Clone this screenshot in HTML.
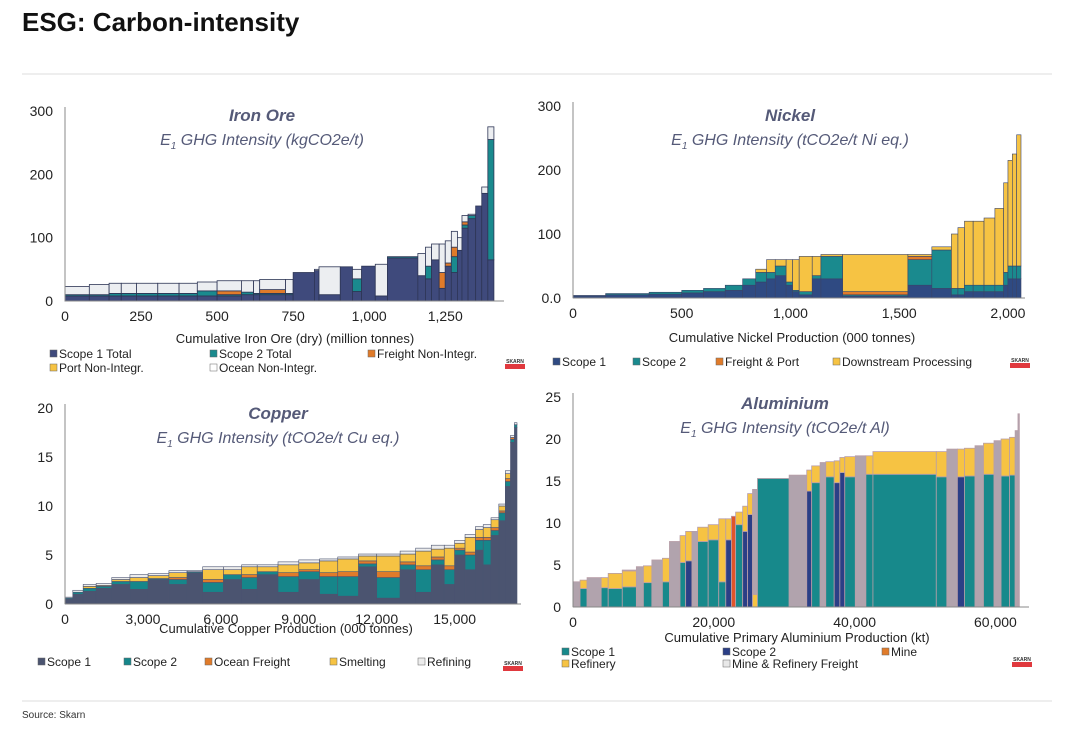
<!DOCTYPE html>
<html><head><meta charset="utf-8"><style>
body{margin:0;background:#fff;width:1080px;height:733px;overflow:hidden;font-family:"Liberation Sans",sans-serif}
svg text{font-family:"Liberation Sans",sans-serif}
</style></head><body>
<svg id="s" width="1080" height="733" xmlns="http://www.w3.org/2000/svg">
<text x="22" y="31" font-size="26" font-weight="bold" fill="#111">ESG: Carbon-intensity</text>
<line x1="22" y1="74" x2="1052" y2="74" stroke="#ddd"/>
<line x1="22" y1="701" x2="1052" y2="701" stroke="#ddd"/>
<text x="22" y="718" font-size="10" fill="#333">Source: Skarn</text>
</svg>
<script>
// ---- Iron Ore data (million tonnes, kgCO2e/t)
const ironW=[80,65,40,50,70,70,60,65,80,40,20,85,25,70,15,70,40,30,45,40,100,25,20,25,20,20,20,15,20,25,20,20,20];
const ironS1=[8,8,8,8,8,8,8,8,8,10,10,10,10,45,48,10,54,15,55,8,68,40,35,65,20,55,45,80,115,130,150,170,65];
const ironS2=[2,2,4,4,4,4,4,8,2,4,2,2,2,0,0,0,0,20,0,0,2,0,20,0,0,0,25,0,5,5,0,0,190];
const ironFr=[0,0,0,0,0,0,0,0,6,0,0,6,0,0,0,0,0,0,0,0,0,0,0,0,25,5,15,0,5,0,0,0,0];
const ironPort=[0,0,0,0,0,0,0,0,0,0,0,0,0,0,0,0,0,0,0,0,0,0,0,0,0,0,0,0,0,0,0,0,0];
const ironOc=[13,16,16,16,16,16,16,14,16,18,20,16,22,0,2,44,0,15,0,50,0,35,30,25,45,35,25,20,10,2,0,10,20];
const ironXTicks=[0,250,500,750,1000,1250];
const ironYTicks=[0,100,200,300];
// ---- Nickel data (kt, tCO2e/t)
const niW=[150,200,150,100,100,80,60,50,40,50,30,30,60,40,100,300,110,90,30,30,40,50,50,40,20,20,20,20];
const niS1=[3,5,6,8,10,12,20,25,30,35,20,10,5,30,30,3,20,15,5,5,10,10,10,10,20,30,30,30];
const niS2=[1,2,3,4,5,8,10,15,10,15,5,2,5,5,35,2,40,60,10,10,10,10,10,10,20,20,20,20];
const niFr=[0,0,0,0,0,0,0,0,0,0,0,0,0,0,0,5,5,0,0,0,0,0,0,0,0,0,0,0];
const niDs=[0,0,0,0,0,0,0,5,20,10,35,48,55,30,3,58,3,5,85,95,100,100,105,120,140,165,175,205];
const niXTicks=[0,500,1000,1500,2000];
const niYTicks=[0,100,200,300];
// ---- Copper data (kt, tCO2e/t)
const cuW=[300,400,500,600,700,700,800,700,600,800,700,600,800,800,800,700,800,700,900,600,600,500,400,400,400,300,300,300,250,200,150,100];
const cuS1=[0.5,1.0,1.3,1.6,2.0,1.5,2.5,2.0,3.2,1.2,2.5,1.5,3.0,1.2,2.5,1.0,0.8,3.8,0.6,3.5,1.2,4.0,2.0,5.0,3.5,5.5,4.0,7.0,8.5,12,16.5,18];
const cuS2=[0.1,0.2,0.3,0.2,0.3,0.8,0.1,0.5,0.1,1.0,0.5,1.2,0.3,1.6,0.8,1.8,2.0,0.3,2.1,0.5,2.3,0.5,1.5,0.5,1.5,1.0,2.5,0.5,0.8,0.5,0.3,0.3];
const cuFr=[0,0,0,0,0,0,0,0.2,0,0.3,0,0.3,0,0.4,0.2,0.4,0.5,0.3,0.6,0.3,0.4,0.3,0.4,0.2,0.3,0.3,0.3,0.3,0.2,0.3,0.2,0];
const cuSm=[0,0,0.2,0.1,0.2,0.4,0.3,0.5,0,1.0,0.5,0.8,0.5,0.8,0.7,1.2,1.3,0.5,1.6,0.8,1.5,0.8,1.8,0.5,1.5,0.8,1.0,0.8,0.5,0.5,0,0];
const cuRef=[0.1,0.2,0.2,0.2,0.2,0.3,0.2,0.2,0.1,0.3,0.3,0.2,0.2,0.3,0.3,0.2,0.2,0.2,0.2,0.3,0.3,0.4,0.3,0.3,0.3,0.3,0.3,0.2,0.2,0.3,0.2,0.2];
const cuXTicks=[0,3000,6000,9000,12000,15000];
const cuYTicks=[0,5,10,15,20];
// ---- Aluminium data (kt, tCO2e/t)
const alW=[1000,1000,2000,1000,2000,2000,1000,1200,1500,1000,1500,800,900,800,1500,1500,1000,800,600,1000,700,700,700,4500,2500,700,1200,800,1200,800,700,1500,1500,1000,9000,1500,1500,1000,1500,1200,1500,1000,1200,800,400,200];
const alS1=[0,2.2,0,2.3,2.2,2.4,0,2.9,0,3.0,0,5.3,0,0,7.8,8.0,3.0,0,0,9.8,0,0,0,15.3,0,0,14.8,0,15.5,0,0,15.5,0,15.8,15.8,15.5,0,0,15.6,0,15.8,0,15.6,15.7,0,0];
const alS2=[0,0,0,0,0,0,0,0,0,0,0,0,5.5,0,0,0,0,8.0,0,0,9.0,11.0,0,0,0,13.8,0,0,0,14.8,16.0,0,0,0,0,0,0,15.5,0,0,0,0,0,0,0,0];
const alMine=[0,0,0,0,0,0,0,0,0,0,0,0,0,0,0,0,0,0,10.8,0,0,0,0,0,0,0,0,0,0,0,0,0,0,0,0,0,0,0,0,0,0,0,0,0,0,0];
const alRef=[0,1.0,0,1.2,1.8,1.9,0,2.0,0,2.8,0,3.2,3.5,0,1.7,1.8,7.5,2.5,0,1.5,3.0,2.5,1.5,0,0,2.5,2.0,0,1.8,2.6,1.8,2.4,0,2.2,2.7,3.0,0,3.3,3.3,0,3.7,0,4.4,4.5,0,0];
const alFr=[3.0,0,3.5,0,0,0.1,4.8,0,5.6,0,7.8,0,0,9.0,0,0,0,0,0,0,0,0,12.5,0,15.7,0,0,17.2,0,0,0,0,18.0,0,0,0,18.8,0,0,19.2,0,19.8,0,0,21,23];
const alXTicks=[0,20000,40000,60000];
const alYTicks=[0,5,10,15,20,25];

const NS='http://www.w3.org/2000/svg';
const svg=document.getElementById('s');
function mk(tag,attrs,parent){const e=document.createElementNS(NS,tag);for(const k in attrs)e.setAttribute(k,attrs[k]);(parent||svg).appendChild(e);return e;}
function fmt(v,dec){if(dec)return v===0?'0.0':String(v);return v.toLocaleString('en-US');}

function chart(c){
  const g=mk('g',{});
  
  
  const sx=v=>c.x0+(v/c.xMax)*(c.x1-c.x0);
  const sy=v=>c.y0-(v/c.yMax)*(c.y0-c.y1);
  // bars
  let cum=0;
  for(let i=0;i<c.w.length;i++){
    let base=0;
    for(let k=0;k<c.series.length;k++){
      const v=c.series[k][i];
      if(v>0){
        const r=mk('rect',{x:sx(cum),y:sy(base+v),width:Math.max(0.5,sx(cum+c.w[i])-sx(cum)),height:sy(base)-sy(base+v),fill:c.colors[k],stroke:c.stroke,'stroke-width':c.sw},g);
        
        
      }
      base+=v;
    }
    cum+=c.w[i];
  }
  // axes
  const ax=mk('line',{x1:c.x0,y1:c.y0,x2:c.x0,y2:c.y1-4,stroke:'#888','stroke-width':1},g);
  
  
  const bx=mk('line',{x1:c.x0,y1:c.y0,x2:c.x1+4,y2:c.y0,stroke:'#888','stroke-width':1},g);
  
  
  c.yt.forEach(v=>{
    const t=mk('text',{x:c.x0-12,y:sy(v)+5,'text-anchor':'end','font-size':14,fill:'#222'},g);
    t.textContent=fmt(v,c.dec);
    
    
  });
  c.xt.forEach(v=>{
    const t=mk('text',{x:sx(v),y:c.y0+20,'text-anchor':'middle','font-size':14,fill:'#222'},g);
    t.textContent=fmt(v);
    
    
  });
  const xt=mk('text',{x:c.xtx,y:c.xty,'text-anchor':'middle','font-size':13,fill:'#222'},g);
  xt.textContent=c.xTitle;
  
  
  const t1=mk('text',{x:c.tx,y:c.ty,'text-anchor':'middle','font-size':17,'font-style':'italic','font-weight':'bold',fill:'#555a78'},g);
  t1.textContent=c.title;
  
  
  const t2=mk('text',{x:c.tx,y:c.ty+24,'text-anchor':'middle','font-size':16,'font-style':'italic',fill:'#555a78'},g);
  t2.innerHTML='E<tspan font-size="10" dy="4">1</tspan><tspan dy="-4"> GHG Intensity ('+c.unit+')</tspan>';
  
  
  c.leg.forEach((L,k)=>{
    const r=mk('rect',{x:L[0],y:L[1]-8,width:7,height:7,fill:c.legColors[k],stroke:'#666','stroke-width':0.5},g);
    
    
    const t=mk('text',{x:L[0]+9,y:L[1],'font-size':12,fill:'#222'},g);
    t.textContent=c.labels[k];
    
    
  });
  const lg=mk('g',{},g);
  
  
  mk('text',{x:c.logo[0]+10,y:c.logo[1],'text-anchor':'middle','font-size':5,fill:'#333','font-weight':'bold'},lg).textContent='SKARN';
  mk('rect',{x:c.logo[0],y:c.logo[1]+1,width:20,height:5,fill:'#e0393e'},lg);
}

chart({name:'iron-ore',x0:65,x1:500,xMax:1430,y0:301,y1:111,yMax:300,w:ironW,
  series:[ironS1,ironS2,ironFr,ironPort,ironOc],colors:['#3f4a7c','#1a8a8e','#e07b2a','#f6c343','#eceef1'],
  legColors:['#3f4a7c','#1a8a8e','#e07b2a','#f6c343','#ffffff'],stroke:'#2e3656',sw:0.8,
  labels:['Scope 1 Total','Scope 2 Total','Freight Non-Integr.','Port Non-Integr.','Ocean Non-Integr.'],
  xt:ironXTicks,yt:ironYTicks,xTitle:'Cumulative Iron Ore (dry) (million tonnes)',xtx:295,xty:343,
  title:'Iron Ore',unit:'kgCO2e/t',tx:262,ty:121,
  leg:[[50,358],[210,358],[368,358],[50,372],[210,372]],logo:[505,363]});
chart({name:'nickel',x0:573,x1:1021,xMax:2060,y0:298,y1:106,yMax:300,w:niW,dec:true,
  series:[niS1,niS2,niFr,niDs],colors:['#2f4a82','#1a8a8e','#e07b2a','#f6c343'],
  legColors:['#2f4a82','#1a8a8e','#e07b2a','#f6c343'],stroke:'#3a4468',sw:0.6,
  labels:['Scope 1','Scope 2','Freight & Port','Downstream Processing'],
  xt:niXTicks,yt:niYTicks,xTitle:'Cumulative Nickel Production (000 tonnes)',xtx:792,xty:342,
  title:'Nickel',unit:'tCO2e/t Ni eq.',tx:790,ty:121,
  leg:[[553,366],[633,366],[716,366],[833,366]],logo:[1010,362]});
chart({name:'copper',x0:65,x1:517,xMax:17400,y0:604,y1:408,yMax:20,w:cuW,
  series:[cuS1,cuS2,cuFr,cuSm,cuRef],colors:['#4b5470','#16868a','#e07b2a','#f6c343','#ececec'],
  legColors:['#4b5470','#16868a','#e07b2a','#f6c343','#ececec'],stroke:'#4b5470',sw:0.6,
  labels:['Scope 1','Scope 2','Ocean Freight','Smelting','Refining'],
  xt:cuXTicks,yt:cuYTicks,xTitle:'Cumulative Copper Production (000 tonnes)',xtx:286,xty:633,
  title:'Copper',unit:'tCO2e/t Cu eq.',tx:278,ty:419,
  leg:[[38,666],[124,666],[205,666],[330,666],[418,666]],logo:[503,665]});
chart({name:'aluminium',x0:573,x1:1025,xMax:64200,y0:607,y1:397,yMax:25,w:alW,
  series:[alS1,alS2,alMine,alRef,alFr],colors:['#17898b','#2b3f86','#e0552a','#f6c343','#b1a3ad'],
  legColors:['#17898b','#2b3f86','#e07b2a','#f6c343','#e8e8e8'],stroke:'#b89ea8',sw:0.8,
  labels:['Scope 1','Scope 2','Mine','Refinery','Mine & Refinery Freight'],
  xt:alXTicks,yt:alYTicks,xTitle:'Cumulative Primary Aluminium Production (kt)',xtx:797,xty:642,
  title:'Aluminium',unit:'tCO2e/t Al',tx:785,ty:409,
  leg:[[562,656],[723,656],[882,656],[562,668],[723,668]],logo:[1012,661]});
</script>
</body></html>
